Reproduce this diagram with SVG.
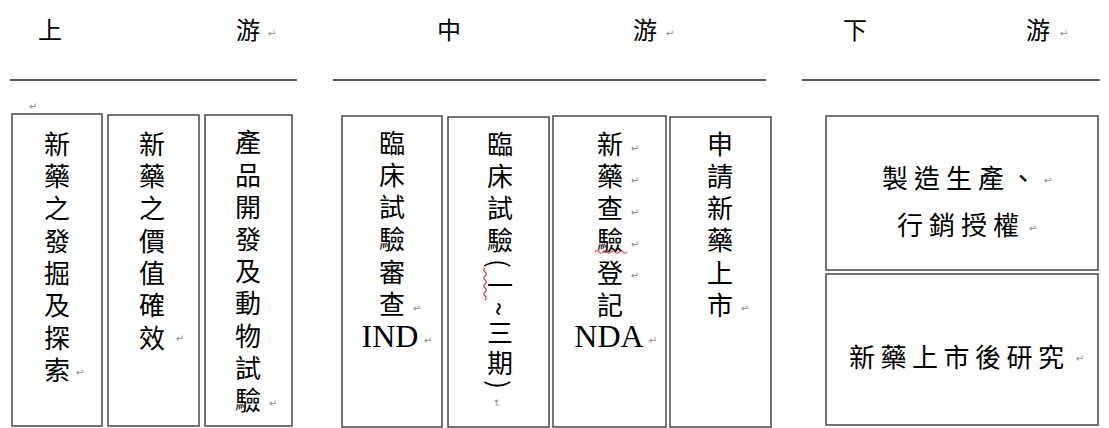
<svg xmlns="http://www.w3.org/2000/svg" width="1109" height="428" viewBox="0 0 1109 428">
<style>
.bg{fill:#ffffff}
.box{fill:#ffffff;stroke:#3a3a3a;stroke-width:1.4}
.rule{stroke:#5a5a5a;stroke-width:2}
.cjk{font-family:"Noto Sans CJK TC","Noto Sans CJK SC",sans-serif;font-size:26px;fill:#000;text-anchor:middle}
.col{font-family:"Noto Sans CJK TC","Noto Sans CJK SC",sans-serif;font-size:26px;fill:#000;writing-mode:vertical-rl;text-anchor:start}
.hd{font-family:"Noto Sans CJK TC","Noto Sans CJK SC",sans-serif;font-size:24px;fill:#000;text-anchor:middle}
.lat{font-family:"Liberation Serif",serif;font-size:32px;fill:#000;text-anchor:middle}
.pm{font-family:"DejaVu Sans",sans-serif;font-size:10px;fill:#8a8a8a;text-anchor:middle}
.sq{fill:none;stroke:#e03030;stroke-width:1.2}
</style>
<rect class="bg" x="0" y="0" width="1109" height="428"/>

<g id="header-upstream">
  <text class="hd" x="50" y="39">上</text>
  <text class="hd" x="248" y="39">游</text>
  <text class="pm" x="272" y="37">↵</text>
  <line class="rule" x1="10" y1="80" x2="297" y2="80"/>
</g>
<g id="header-midstream">
  <text class="hd" x="449" y="39">中</text>
  <text class="hd" x="645" y="39">游</text>
  <text class="pm" x="670" y="37">↵</text>
  <line class="rule" x1="333" y1="80" x2="766" y2="80"/>
</g>
<g id="header-downstream">
  <text class="hd" x="855" y="39">下</text>
  <text class="hd" x="1038" y="39">游</text>
  <text class="pm" x="1064" y="37">↵</text>
  <line class="rule" x1="802" y1="80" x2="1100" y2="80"/>
</g>

<text class="pm" x="33" y="110">↵</text>

<g id="connectors"></g>

<g id="box-discovery">
  <rect class="box" x="12" y="114" width="90" height="312"/>
  <text class="col" x="57" y="131" style="letter-spacing:6.3px">新藥之發掘及探索</text>
  <text class="pm" x="80" y="376">↵</text>
</g>

<g id="box-value">
  <rect class="box" x="108" y="115" width="91" height="311"/>
  <text class="col" x="152" y="131" style="letter-spacing:6.3px">新藥之價值確效</text>
  <text class="pm" x="180" y="342">↵</text>
</g>

<g id="box-development">
  <rect class="box" x="205" y="115" width="87" height="311"/>
  <text class="col" x="248" y="129.5" style="letter-spacing:6.2px">產品開發及動物試驗</text>
  <text class="pm" x="273" y="407">↵</text>
</g>

<g id="box-ind">
  <rect class="box" x="342" y="116" width="100" height="311"/>
  <text class="col" x="392" y="130.3" style="letter-spacing:6.1px">臨床試驗審查</text>
  <text class="pm" x="417" y="312">↵</text>
  <text class="lat" x="390" y="347">IND</text>
  <text class="pm" x="428" y="344">↵</text>
</g>

<g id="box-trials">
  <rect class="box" x="448" y="117" width="101" height="310"/>
  <text class="col" x="500" y="131" style="letter-spacing:6px">臨床試驗<tspan style="letter-spacing:4px">(一~三期)</tspan></text>
  <text class="pm" transform="translate(497,403) rotate(90)" x="0" y="4">↵</text>
  <path class="sq" d="M485,268 q-2.5,2 0,4 t0,4 t0,4 t0,4 t0,4 t0,4 t0,4 t0,4"/>
</g>

<g id="box-nda">
  <rect class="box" x="553" y="116" width="113" height="311"/>
  <text class="col" x="610" y="131" style="letter-spacing:6.2px">新藥查驗登記</text>
  <text class="pm" x="635" y="152">↵</text>
  <text class="pm" x="635" y="184">↵</text>
  <text class="pm" x="635" y="216">↵</text>
  <text class="pm" x="635" y="248">↵</text>
  <text class="pm" x="635" y="279">↵</text>
  <path class="sq" d="M595,252 q2,-2.5 4,0 t4,0 t4,0 t4,0 t4,0 t4,0 t4,0 t4,0"/>
  <text class="lat" x="609" y="347">NDA</text>
  <text class="pm" x="653" y="344">↵</text>
</g>

<g id="box-apply">
  <rect class="box" x="670" y="117" width="101" height="310"/>
  <text class="col" x="720" y="131" style="letter-spacing:6.2px">申請新藥上市</text>
  <text class="pm" x="745" y="312">↵</text>
</g>

<g id="box-manufacturing">
  <rect class="box" x="826" y="116" width="272" height="154"/>
  <text class="cjk" style="text-anchor:start;letter-spacing:6px" x="882" y="188">製造生產、</text>
  <text class="pm" x="1048" y="184">↵</text>
  <text class="cjk" style="text-anchor:start;letter-spacing:6px" x="897" y="235">行銷授權</text>
  <text class="pm" x="1033" y="232">↵</text>
</g>

<g id="box-postmarket">
  <rect class="box" x="826" y="274" width="272" height="151"/>
  <text class="cjk" style="text-anchor:start;letter-spacing:5.5px" x="849" y="367">新藥上市後研究</text>
  <text class="pm" x="1080" y="362">↵</text>
</g>
</svg>
